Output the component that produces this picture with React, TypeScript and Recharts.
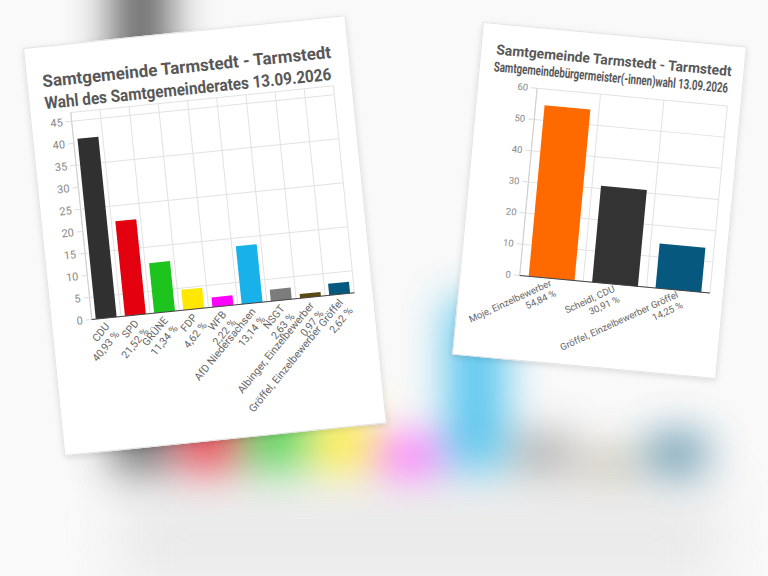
import React from 'react';
import { BarChart, Bar, XAxis, YAxis, CartesianGrid, Cell } from 'recharts';

// Samtgemeinderat
const councilParties = [
  'CDU', 'SPD', 'GRÜNE', 'FDP', 'WFB', 'AfD Niedersachsen', 'NSGT',
  'Albinger, Einzelbewerber', 'Gröffel, Einzelbewerber Gröffel',
];
const councilShares = [40.93, 21.52, 11.34, 4.62, 2.22, 13.14, 2.63, 0.97, 2.62];
const councilColors = [
  '#303030', '#e3000f', '#1dc41d', '#ffe800', '#ff00ff', '#19b1ea', '#7c7c7c', '#5a4b14', '#05587e',
];
const councilTicks = [0, 5, 10, 15, 20, 25, 30, 35, 40, 45];

// Bürgermeisterwahl
const mayorCandidates = ['Moje, Einzelbewerber', 'Scheidl, CDU', 'Gröffel, Einzelbewerber Gröffel'];
const mayorShares = [54.84, 30.91, 14.25];
const mayorColors = ['#ff6a00', '#333333', '#07587f'];
const mayorTicks = [0, 10, 20, 30, 40, 50, 60];

const councilData = councilParties.map((name, i) => ({ name, value: councilShares[i] }));
const mayorData = mayorCandidates.map((name, i) => ({ name, value: mayorShares[i] }));

const pct = (v: number) => v.toFixed(2).replace('.', ',') + ' %';
const FONT = 'Roboto, "Liberation Sans", Arial, sans-serif';

const boundaries = (n: number) => ({ offset }: any) =>
  Array.from({ length: n + 1 }, (_, i) => offset.left + (i * offset.width) / n);

const TwoLineTick = ({ x, y, payload, data, angle, fontSize, dx = 0, dy = 0 }: any) => {
  const row = data.find((d: any) => d.name === payload.value);
  return (
    <g transform={`translate(${x + dx},${y + dy})`}>
      <text transform={`rotate(${angle})`} textAnchor="end" fontSize={fontSize} fill="#666" fontFamily={FONT}>
        <tspan x={0} dy="-0.15em">{payload.value}</tspan>
        <tspan x={0} dy="1.2em">{row ? pct(row.value) : ''}</tspan>
      </text>
    </g>
  );
};

const cardStyle: React.CSSProperties = {
  position: 'absolute',
  background: '#fff',
  border: '1px solid #e4e4e4',
  boxShadow: '0 2px 6px rgba(0,0,0,0.12)',
  transformOrigin: '0 0',
};

const App = () => {
  return (
    <div style={{ position: 'absolute', left: 0, top: 0, width: 768, height: 576, overflow: 'hidden', background: '#f9f9f9', fontFamily: FONT }}>
      {/* soft grey haze under the blurred chart */}
      <div style={{ position: 'absolute', left: 120, top: 480, width: 600, height: 110, background: '#e4e4e4', filter: 'blur(28px)', opacity: 0.7 }} />

      {/* blurred copy of the council chart behind the cards */}
      <div style={{ position: 'absolute', left: 0, top: -111, filter: 'blur(22px)', opacity: 0.75 }}>
        <BarChart width={768} height={700} data={councilData} margin={{ top: 0, right: 58, left: 107, bottom: 0 }}>
          <YAxis hide domain={[0, 45]} />
          <XAxis dataKey="name" height={119} interval={0} axisLine={false} tickLine={false} tick={false} />
          <Bar dataKey="value" barSize={56} isAnimationActive={false}>
            {councilData.map((d, i) => <Cell key={d.name} fill={councilColors[i]} />)}
          </Bar>
        </BarChart>
      </div>

      {/* left card */}
      <div style={{ ...cardStyle, left: 23, top: 48, width: 322, height: 408, transform: 'rotate(-5.8deg)' }}>
        <svg width={420} height={72} style={{ position: 'absolute', left: 0, top: 0, overflow: 'visible' }}>
          <text x={15} y={40} fontSize={17} fontWeight={700} fill="#585858" textLength={290} lengthAdjust="spacingAndGlyphs">
            Samtgemeinde Tarmstedt - Tarmstedt
          </text>
          <text x={15} y={62} fontSize={17} fontWeight={700} fill="#585858" textLength={288} lengthAdjust="spacingAndGlyphs">
            Wahl des Samtgemeinderates 13.09.2026
          </text>
        </svg>
        <div style={{ position: 'absolute', left: 0, top: 0 }}>
          <BarChart width={322} height={408} data={councilData} margin={{ top: 68, right: 18, left: 0, bottom: 0 }}>
            <CartesianGrid stroke="#e2e2e2" verticalCoordinatesGenerator={boundaries(councilData.length)} />
            <YAxis domain={[0, 47]} ticks={councilTicks} width={40} tick={{ fontSize: 11, fill: '#888' }} axisLine={{ stroke: '#cfcfcf' }} tickLine={{ stroke: '#dcdcdc' }} tickSize={6} tickMargin={3} />
            <XAxis
              dataKey="name"
              height={132}
              interval={0}
              axisLine={{ stroke: '#444' }}
              tickLine={false}
              tick={(p: any) => <TwoLineTick {...p} data={councilData} angle={-45} fontSize={10.5} dx={4} dy={2} />}
            />
            <Bar dataKey="value" barSize={21} isAnimationActive={false}>
              {councilData.map((d, i) => <Cell key={d.name} fill={councilColors[i]} />)}
            </Bar>
          </BarChart>
        </div>
      </div>

      {/* right card */}
      <div style={{ ...cardStyle, left: 483, top: 22, width: 263, height: 332, transform: 'rotate(5.3deg)' }}>
        <svg width={263} height={60} style={{ position: 'absolute', left: 0, top: 0, overflow: 'visible' }}>
          <text x={15} y={30} fontSize={14} fontWeight={700} fill="#585858" textLength={236} lengthAdjust="spacingAndGlyphs">
            Samtgemeinde Tarmstedt - Tarmstedt
          </text>
          {/* condensed subtitle: narrow font size stretched to full height */}
          <text transform="translate(14,47) scale(1,1.45)" x={0} y={0} fontSize={9.5} fontWeight={700} fill="#585858" textLength={235} lengthAdjust="spacingAndGlyphs">
            Samtgemeindebürgermeister(-innen)wahl 13.09.2026
          </text>
        </svg>
        <div style={{ position: 'absolute', left: 0, top: 0 }}>
          <BarChart width={263} height={332} data={mayorData} margin={{ top: 60, right: 13, left: 0, bottom: 0 }}>
            <CartesianGrid stroke="#e2e2e2" verticalCoordinatesGenerator={boundaries(mayorData.length)} />
            <YAxis domain={[0, 60]} ticks={mayorTicks} width={59} tick={{ fontSize: 9.5, fill: '#888' }} axisLine={{ stroke: '#cfcfcf' }} tickLine={{ stroke: '#dcdcdc' }} tickSize={6} tickMargin={3} />
            <XAxis
              dataKey="name"
              height={84}
              interval={0}
              axisLine={{ stroke: '#444' }}
              tickLine={false}
              tick={(p: any) => <TwoLineTick {...p} data={mayorData} angle={-30} fontSize={9.5} dx={2} dy={0} />}
            />
            <Bar dataKey="value" barSize={46} isAnimationActive={false}>
              {mayorData.map((d, i) => <Cell key={d.name} fill={mayorColors[i]} />)}
            </Bar>
          </BarChart>
        </div>
      </div>
    </div>
  );
};

export default App;
